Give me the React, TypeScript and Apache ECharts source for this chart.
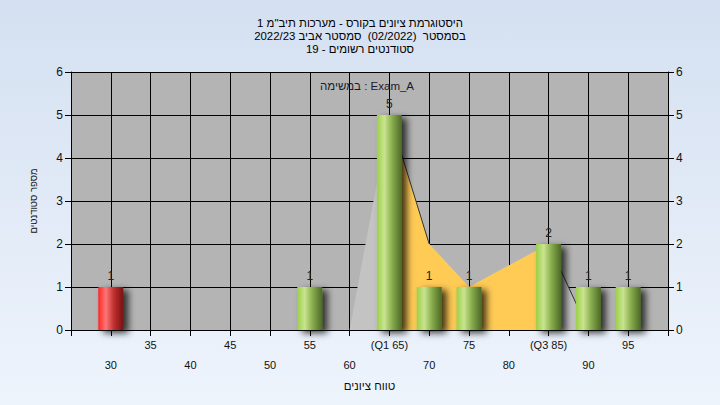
import React, { useEffect, useRef } from "react";
import * as echarts from "echarts";

// ---- data ----
const titleLines = [
  'היסטוגרמת ציונים בקורס - מערכות תיב"מ 1',
  "בסמסטר  (02/2022)  סמסטר אביב 2022/23",
  "סטודנטים רשומים - 19",
];
const legendText = "במשימה : Exam_A";
const xAxisTitle = "טווח ציונים";
const yAxisTitle = "מספר סטודנטים";

const barScores = [30, 55, 65, 70, 75, 85, 90, 95];
const barCounts = [1, 1, 5, 1, 1, 2, 1, 1];

// overlay polygon (frequency outline)
const polyScores = [60, 65, 70, 75, 85, 90, 95];
const polyCounts = [0, 5, 2, 1, 2, 0, 0];

const q1Score = 65;
const q3Score = 85;
const failBelow = 55;

const xMin = 25;
const xMax = 100;
const xStep = 5;
const yMin = 0;
const yMax = 6;
const yStep = 1;

const FONT = "Liberation Sans, DejaVu Sans, Arial, sans-serif";

export default function App() {
  const ref = useRef<HTMLDivElement>(null);

  useEffect(() => {
    if (!ref.current) return;
    const chart = echarts.init(ref.current, undefined, { renderer: "svg" });

    const pts = polyScores.map((x, i) => [x, polyCounts[i]]);
    const iq1 = polyScores.indexOf(q1Score);
    const iq3 = polyScores.indexOf(q3Score);
    const orangePts = pts.slice(iq1, iq3 + 1);
    const seg1 = pts.slice(iq1, iq1 + 2);
    const seg2 = pts.slice(iq3, iq3 + 2);

    const grad = (stops: string[]) =>
      new echarts.graphic.LinearGradient(0, 0, 1, 0, [
        { offset: 0, color: stops[0] },
        { offset: 0.3, color: stops[1] },
        { offset: 0.62, color: stops[2] },
        { offset: 1, color: stops[3] },
      ]);
    const green = grad(["#9ccf4a", "#c9e48e", "#86ab4c", "#4c6826"]);
    const red = grad(["#ff2424", "#ff7676", "#c03030", "#781010"]);

    const labelFmt = (v: number) => {
      if (v === xMin || v === xMax) return "";
      let s = String(v);
      if (v === q1Score) s = "(Q1 " + v + ")";
      if (v === q3Score) s = "(Q3 " + v + ")";
      return v % 10 === 0 ? "\n" + s : s;
    };

    const yAxisCommon = {
      type: "value" as const,
      min: yMin,
      max: yMax,
      interval: yStep,
      axisLine: { show: true, lineStyle: { color: "#000", width: 1 } },
      axisTick: { show: true, length: 6, lineStyle: { color: "#000" } },
      axisLabel: { color: "#111", fontSize: 12, fontFamily: FONT, margin: 8 },
    };

    chart.setOption({
      animation: false,
      title: {
        text: titleLines.join("\n"),
        left: "center",
        top: 11,
        textStyle: {
          fontSize: 11.4,
          lineHeight: 13,
          fontWeight: "normal",
          color: "#000",
          fontFamily: FONT,
        },
      },
      grid: {
        left: 71,
        right: 52,
        top: 72,
        bottom: 75,
        show: true,
        backgroundColor: "#b4b4b4",
        borderWidth: 0,
      },
      graphic: [
        {
          type: "text",
          x: 367,
          y: 86,
          z: 10,
          style: {
            text: legendText,
            fill: "#1a1a2a",
            fontSize: 11.5,
            fontFamily: FONT,
            align: "center",
            verticalAlign: "middle",
          },
        },
      ],
      xAxis: {
        type: "value",
        min: xMin,
        max: xMax,
        interval: xStep,
        name: xAxisTitle,
        nameLocation: "middle",
        nameGap: 42,
        nameTextStyle: { color: "#111", fontSize: 11.5, fontFamily: FONT },
        axisLine: { show: true, onZero: false, lineStyle: { color: "#000" } },
        axisTick: { show: true, length: 6, lineStyle: { color: "#000" } },
        axisLabel: {
          formatter: labelFmt,
          color: "#111",
          fontSize: 11,
          lineHeight: 20,
          fontFamily: FONT,
          margin: 5,
          showMinLabel: true,
          showMaxLabel: true,
        },
        splitLine: { show: true, lineStyle: { color: "#000", width: 1 } },
      },
      yAxis: [
        {
          ...yAxisCommon,
          position: "left",
          name: yAxisTitle,
          nameLocation: "middle",
          nameGap: 33,
          nameRotate: 90,
          nameTextStyle: { color: "#111", fontSize: 9.5, fontFamily: FONT },
          splitLine: { show: true, lineStyle: { color: "#000", width: 1 } },
        },
        {
          ...yAxisCommon,
          position: "right",
          splitLine: { show: false },
        },
      ],
      series: [
        {
          type: "line",
          z: 1,
          data: pts,
          symbol: "none",
          lineStyle: { width: 0 },
          areaStyle: { color: "#c3c3c3", opacity: 1 },
          silent: true,
        },
        {
          type: "line",
          z: 1,
          data: orangePts,
          symbol: "none",
          lineStyle: { width: 0 },
          areaStyle: { color: "#ffcb55", opacity: 1 },
          silent: true,
        },
        {
          type: "line",
          z: 1,
          data: seg1,
          symbol: "none",
          lineStyle: { width: 1, color: "#333" },
          silent: true,
        },
        {
          type: "line",
          z: 1,
          data: seg2,
          symbol: "none",
          lineStyle: { width: 1, color: "#333" },
          silent: true,
        },
        {
          type: "bar",
          z: 5,
          barWidth: 25,
          data: barScores.map((x, i) => ({
            value: [x, barCounts[i]],
            itemStyle: { color: x < failBelow ? red : green },
          })),
          itemStyle: {
            shadowColor: "rgba(0,0,0,0.75)",
            shadowBlur: 7,
            shadowOffsetX: 5,
            shadowOffsetY: 3,
          },
          label: {
            show: true,
            position: "top",
            distance: 5,
            color: "#222",
            fontSize: 12,
            fontFamily: FONT,
            formatter: (p: any) => String(p.value[1]),
          },
        },
      ],
    });

    return () => chart.dispose();
  }, []);

  return (
    <div
      style={{
        position: "fixed",
        left: 0,
        top: 0,
        width: 720,
        height: 405,
        background: "linear-gradient(180deg, #d4e0f1 0%, #eef4fc 100%)",
      }}
    >
      <div ref={ref} style={{ width: 720, height: 405 }} />
    </div>
  );
}
